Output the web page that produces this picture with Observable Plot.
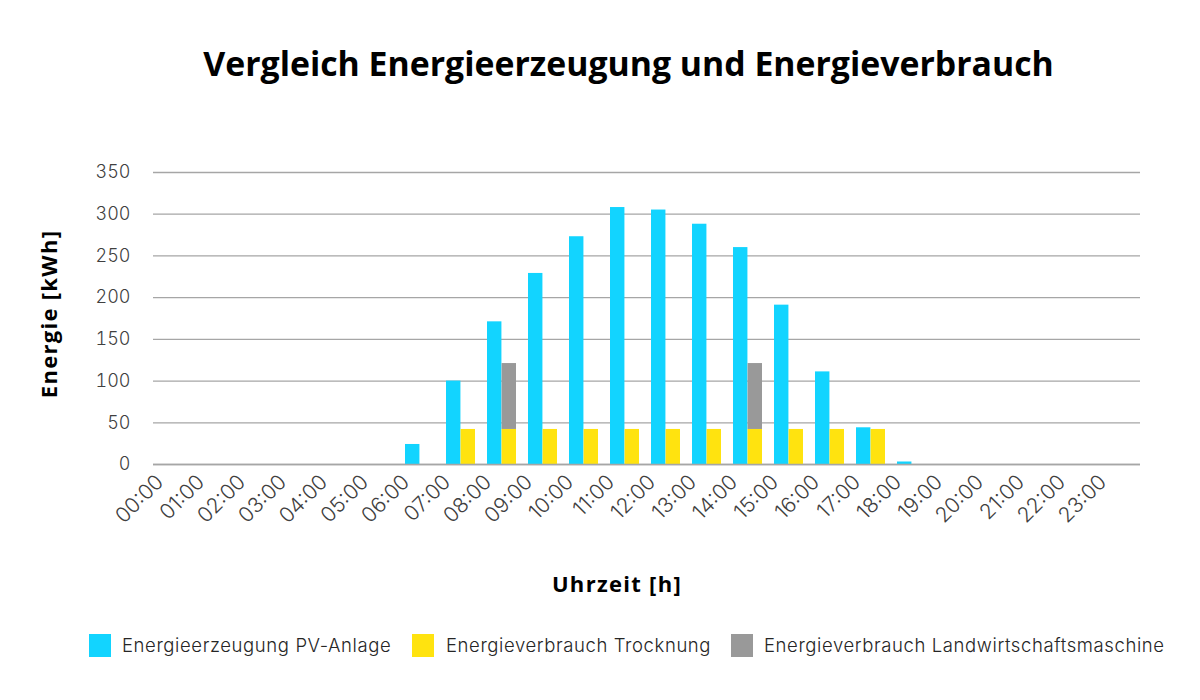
<!DOCTYPE html>
<html>
<head>
<meta charset="utf-8">
<script src="https://cdn.jsdelivr.net/npm/d3@7"></script>
<script src="https://cdn.jsdelivr.net/npm/@observablehq/plot@0.6"></script>
<style>
  html, body { margin: 0; padding: 0; background: #fff; }
  #wrap { position: relative; width: 1200px; height: 700px; overflow: hidden; font-family: "Inter", sans-serif; }
  #title { position: absolute; left: 0; top: 40px; width: 1257px; text-align: center; font-family: "Open Sans", sans-serif; font-weight: 700; font-size: 33.8px; color: #000; white-space: nowrap; }
  #chart { position: absolute; left: 0; top: 130px; }
  .axl { position: absolute; font-family: "Open Sans", sans-serif; font-weight: 700; font-size: 22px; letter-spacing: 1.3px; color: #000; white-space: nowrap; line-height: 1; }
  .sw { position: absolute; top: 634px; width: 22px; height: 23px; }
  .lt { position: absolute; top: 634px; font-family: "Inter", sans-serif; font-weight: 300; font-size: 18.5px; letter-spacing: 0.6px; color: #262626; white-space: nowrap; line-height: 23px; }
</style>
</head>
<body>
<div id="wrap">
  <div id="title">Vergleich Energieerzeugung und Energieverbrauch</div>
  <div id="chart"></div>
  <div class="axl" id="xlab" style="left:617px; top:583px; transform: translate(-50%, -50%);">Uhrzeit [h]</div>
  <div class="axl" id="ylab" style="left:48px; top:314px; transform: translate(-50%, -50%) rotate(-90deg);">Energie [kWh]</div>
  <div id="legend"></div>
</div>
<script>
const hours = ["00:00","01:00","02:00","03:00","04:00","05:00","06:00","07:00","08:00","09:00","10:00","11:00","12:00","13:00","14:00","15:00","16:00","17:00","18:00","19:00","20:00","21:00","22:00","23:00"];
const pv = [0,0,0,0,0,0,24,100,171,229,273,308,305,288,260,191,111,44,3,0,0,0,0,0];
const trocknung = [0,0,0,0,0,0,0,42,42,42,42,42,42,42,42,42,42,42,0,0,0,0,0,0];
const maschine = [0,0,0,0,0,0,0,0,79,0,0,0,0,0,79,0,0,0,0,0,0,0,0,0];
const yTicks = [0,50,100,150,200,250,300,350];
const seriesNames = ["Energieerzeugung PV-Anlage","Energieverbrauch Trocknung","Energieverbrauch Landwirtschaftsmaschine"];
const colors = ["#12D4FF","#FFE30F","#999999"];

// legend (HTML, below the chart)
const legendSwatchX = [89, 412, 731];
const legendTextX = [122, 446, 764];
const legend = document.getElementById("legend");
seriesNames.forEach((name, i) => {
  const sw = document.createElement("div");
  sw.className = "sw"; sw.style.left = legendSwatchX[i] + "px"; sw.style.background = colors[i];
  const t = document.createElement("div");
  t.className = "lt"; t.style.left = legendTextX[i] + "px"; t.textContent = name;
  legend.appendChild(sw); legend.appendChild(t);
});

const pvData = hours.map((h,i) => ({hour: h, value: pv[i], series: seriesNames[0]}));
const consData = [
  ...hours.map((h,i) => ({hour: h, value: trocknung[i], series: seriesNames[1]})),
  ...hours.map((h,i) => ({hour: h, value: maschine[i], series: seriesNames[2]}))
];

const W = 1200, H = 480, mL = 145, mR = 55, mT = 42, mB = 146;
const padInner = 0.3, padOuter = 0.15;
const step = (W - mL - mR) / hours.length;
const half = step * (1 - padInner) / 2;

const chart = Plot.plot({
  width: W, height: H,
  marginLeft: mL, marginRight: mR, marginTop: mT, marginBottom: mB,
  style: {fontFamily: "Inter, sans-serif", fontWeight: 300, fontSize: "17px", color: "#404040", background: "#fff"},
  x: {domain: hours, paddingInner: padInner, paddingOuter: padOuter, label: null},
  y: {domain: [0, 350], label: null},
  color: {domain: seriesNames, range: colors},
  marks: [
    Plot.ruleY(yTicks, {stroke: "#A6A6A6", strokeWidth: 1.3, insetLeft: 8, insetRight: 5}),
    Plot.axisY({ticks: yTicks, tickSize: 0, tickPadding: 15, fontSize: 18, label: null}),
    Plot.axisX({tickSize: 0, tickRotate: -45, tickPadding: 14, dx: -14, fontSize: 21, label: null}),
    Plot.barY(pvData, {x: "hour", y: "value", fill: "series", insetRight: half}),
    Plot.barY(consData, Plot.stackY({x: "hour", y: "value", fill: "series", insetLeft: half, order: seriesNames})),
    Plot.ruleY([0], {stroke: "#A6A6A6", strokeWidth: 1.3, insetLeft: 8, insetRight: 5})
  ]
});
document.getElementById("chart").appendChild(chart);
</script>
</body>
</html>
